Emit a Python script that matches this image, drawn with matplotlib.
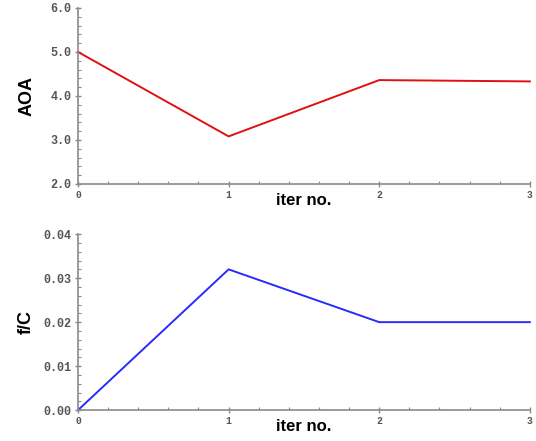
#!/usr/bin/env python3

import matplotlib
matplotlib.use("Agg")
import matplotlib.pyplot as plt
from matplotlib.ticker import MultipleLocator

iters = [0, 1, 2, 3]
aoa = [5.0, 3.08, 4.36, 4.33]
fc = [0.0, 0.032, 0.020, 0.020]

AXIS_GRAY = "#8a8a8a"


def style_axes(ax, ymajor, yfmt):
    for side in ("top", "right"):
        ax.spines[side].set_visible(False)
    for side in ("left", "bottom"):
        ax.spines[side].set_color(AXIS_GRAY)
        ax.spines[side].set_linewidth(1.2)
    ax.set_xlim(0, 3)
    ax.xaxis.set_major_locator(MultipleLocator(1))
    ax.xaxis.set_minor_locator(MultipleLocator(0.2))
    ax.yaxis.set_major_locator(MultipleLocator(ymajor))
    ax.yaxis.set_minor_locator(MultipleLocator(ymajor / 5))
    ax.tick_params(which="major", direction="inout", length=5, width=1,
                   color=AXIS_GRAY, pad=2)
    ax.tick_params(which="minor", direction="in", length=2.5, width=0.8,
                   color=AXIS_GRAY)
    ax.set_yticklabels([yfmt % v for v in ax.get_yticks()])
    for lab in ax.get_yticklabels():
        lab.set_family("Liberation Mono")
        lab.set_fontweight("bold")
        lab.set_fontsize(8.5)
        lab.set_color("#555555")
    for lab in ax.get_xticklabels():
        lab.set_family("Liberation Mono")
        lab.set_fontweight("bold")
        lab.set_fontsize(7)
        lab.set_color("#555555")
    ax.set_xlabel("iter no.", family="Liberation Sans", fontweight="bold",
                  fontsize=12)
    ax.xaxis.set_label_coords(0.5, -0.05)


def main():
    fig = plt.figure(figsize=(5.36, 4.41), dpi=100)
    ax1 = fig.add_axes([0.1455, 0.583, 0.843, 0.399])
    ax2 = fig.add_axes([0.1455, 0.070, 0.843, 0.399])

    ax1.plot(iters, aoa, color="#e01010", lw=1.4, clip_on=False)
    ax1.set_ylim(2.0, 6.0)
    ax1.set_yticks([2.0, 3.0, 4.0, 5.0, 6.0])
    style_axes(ax1, 1.0, "%.1f")
    ax1.set_ylabel("AOA", family="Liberation Sans", fontweight="bold",
                   fontsize=13)
    ax1.yaxis.set_label_coords(-0.095, 0.5)

    ax2.plot(iters, fc, color="#2a2aff", lw=1.4, clip_on=False)
    ax2.set_ylim(0.0, 0.04)
    ax2.set_yticks([0.0, 0.01, 0.02, 0.03, 0.04])
    style_axes(ax2, 0.01, "%.2f")
    ax2.set_ylabel("f/C", family="Liberation Sans", fontweight="bold",
                   fontsize=13)
    ax2.yaxis.set_label_coords(-0.095, 0.5)

    fig.savefig("out.png", dpi=100)


if __name__ == "__main__":
    main()
